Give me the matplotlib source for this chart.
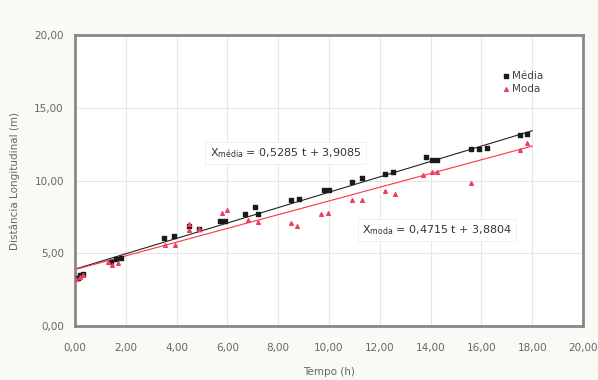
import matplotlib.pyplot as plt
import numpy as np

# Média (mean) points
t_media = [0.1, 0.2, 0.3, 1.4, 1.6, 1.8, 3.5, 3.9, 4.5, 4.9, 5.7, 5.9, 6.7, 7.1, 7.2,
           8.5, 8.8, 9.8, 10.0, 10.9, 11.3, 12.2, 12.5, 13.8, 14.05, 14.25,
           15.6, 15.9, 16.2, 17.5, 17.8]
d_media = [3.3, 3.5, 3.6, 4.4, 4.6, 4.7, 6.05, 6.2, 6.9, 6.7, 7.2, 7.2, 7.7, 8.2, 7.7,
           8.65, 8.7, 9.35, 9.35, 9.9, 10.2, 10.45, 10.6, 11.6, 11.4, 11.4,
           12.15, 12.15, 12.2, 13.1, 13.2]

# Moda (mode) points
t_moda = [0.05, 0.2, 0.3, 1.3, 1.45, 1.7, 3.55, 3.95, 4.5, 4.5, 4.9, 5.8, 6.0, 6.8, 7.2,
          8.5, 8.75, 9.7, 9.95, 10.9, 11.3, 12.2, 12.6, 13.7, 14.05, 14.25,
          15.6, 17.5, 17.8]
d_moda = [3.2, 3.4, 3.5, 4.4, 4.2, 4.3, 5.55, 5.55, 7.0, 6.6, 6.7, 7.8, 8.0, 7.3, 7.15,
          7.1, 6.9, 7.7, 7.8, 8.65, 8.65, 9.3, 9.1, 10.4, 10.6, 10.6,
          9.8, 12.1, 12.6]

# trend line coefficients (from the chart labels)
a_media, b_media = 0.5285, 3.9085
a_moda, b_moda = 0.4715, 3.8804
t_line = np.array([0.0, 18.0])

grey = '#666666'
fig = plt.figure(figsize=(5.98, 3.80), dpi=100, facecolor='#f9f9f5')
ax = fig.add_axes([0.1254, 0.142, 0.8496, 0.766])
ax.set_facecolor('white')

ax.plot(t_line, a_media * t_line + b_media, color='#222222', lw=0.8, zorder=2)
ax.plot(t_line, a_moda * t_line + b_moda, color='#ff3344', lw=0.8, zorder=2)
ax.scatter(t_media, d_media, s=8, marker='s', color='#1a1a1a', label='Média', zorder=3)
ax.scatter(t_moda, d_moda, s=7, marker='^', color='#f04060', label='Moda', zorder=3)

ax.set_xlim(0, 20)
ax.set_ylim(0, 20)
ax.set_xticks(np.arange(0, 21, 2))
ax.set_yticks(np.arange(0, 21, 5))
fmt = lambda v: ('%.2f' % v).replace('.', ',')
ax.set_xticklabels([fmt(v) for v in np.arange(0, 21, 2)])
ax.set_yticklabels([fmt(v) for v in np.arange(0, 21, 5)])
ax.tick_params(colors=grey, labelsize=7.5, length=0)
ax.tick_params(axis='x', pad=12)
ax.tick_params(axis='y', pad=8)
ax.grid(True, color='#e6e6e6', lw=0.8)
ax.set_axisbelow(True)
for s in ax.spines.values():
    s.set_color('#888888')
    s.set_linewidth(2)

ax.set_xlabel('Tempo (h)', color=grey, fontsize=7.5, labelpad=10)
ax.set_ylabel('Distância Longitudinal (m)', color=grey, fontsize=7.5, labelpad=10)

ax.text(5.3, 11.7, r'X$_{\mathrm{média}}$ = 0,5285 t + 3,9085', color='#333333', fontsize=8,
        bbox=dict(facecolor='white', edgecolor='#eeeeee', lw=0.6, pad=3))
ax.text(11.3, 6.4, r'X$_{\mathrm{moda}}$ = 0,4715 t + 3,8804', color='#333333', fontsize=8,
        bbox=dict(facecolor='white', edgecolor='#eeeeee', lw=0.6, pad=3))

leg = ax.legend(loc='upper right', bbox_to_anchor=(0.94, 0.91), frameon=False, fontsize=7.5,
                handletextpad=0.1, labelspacing=0.3, markerscale=1.0, handlelength=1.0)
for txt in leg.get_texts():
    txt.set_color('#444444')

fig.savefig('out.png', dpi=100, facecolor=fig.get_facecolor())
